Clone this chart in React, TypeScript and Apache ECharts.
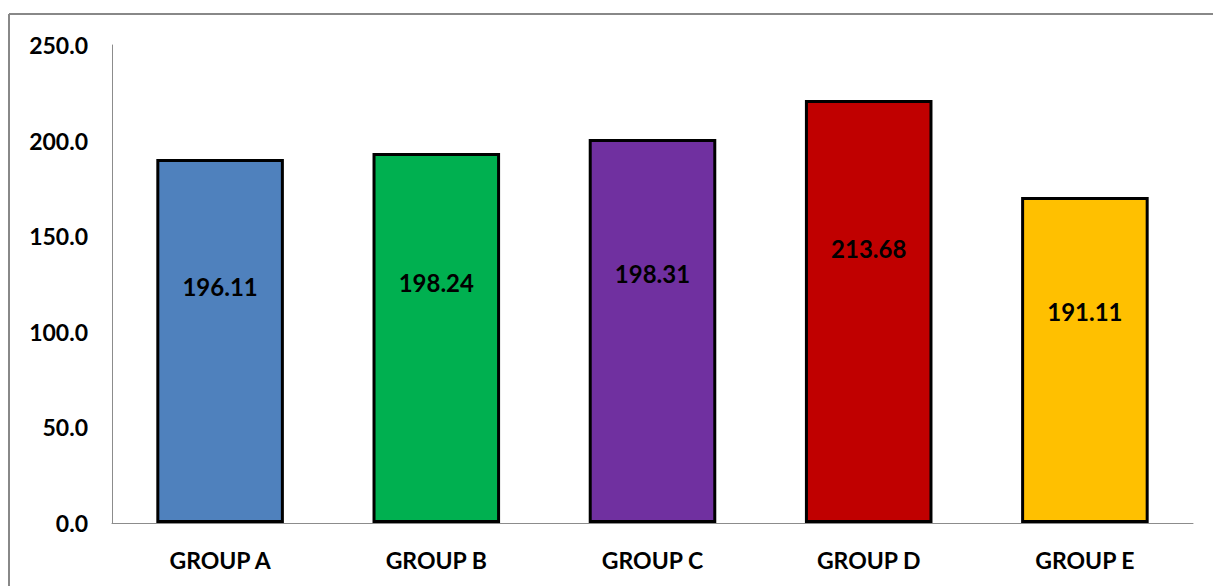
import React, { useEffect, useRef } from "react";
import * as echarts from "echarts";

const categories = ["GROUP A", "GROUP B", "GROUP C", "GROUP D", "GROUP E"];
const barValues = [190.4, 193.5, 200.8, 221.2, 170.5];
const labelTexts = ["196.11", "198.24", "198.31", "213.68", "191.11"];
const barColors = ["#4F81BD", "#00B050", "#7030A0", "#C00000", "#FFC000"];
const yTicks = { min: 0, max: 250, interval: 50 };

export default function App() {
  const ref = useRef<HTMLDivElement>(null);
  useEffect(() => {
    if (!ref.current) return;
    const chart = echarts.init(ref.current, undefined, { renderer: "svg" });
    const font = "Lato, 'Open Sans', sans-serif";
    chart.setOption({
      animation: false,
      backgroundColor: "#fff",
      grid: { left: 112, right: 20, top: 45, bottom: 63, containLabel: false },
      xAxis: {
        type: "category",
        data: categories,
        axisLine: { show: true, lineStyle: { color: "#8c8c8c", width: 1 } },
        axisTick: { show: false },
        axisLabel: {
          color: "#000",
          fontFamily: font,
          fontWeight: "bold",
          fontSize: 23,
          margin: 25,
        },
      },
      yAxis: {
        type: "value",
        min: yTicks.min,
        max: yTicks.max,
        interval: yTicks.interval,
        splitLine: { show: false },
        axisLine: { show: true, lineStyle: { color: "#8c8c8c", width: 1 } },
        axisTick: { show: false },
        axisLabel: {
          color: "#000",
          fontFamily: font,
          fontWeight: "bold",
          fontSize: 23,
          margin: 24,
          formatter: (v: number) => v.toFixed(1),
        },
      },
      series: [
        {
          type: "bar",
          barCategoryGap: "41%",
          data: barValues.map((v, i) => ({
            value: v,
            itemStyle: { color: barColors[i] },
          })),
          itemStyle: { borderColor: "#000", borderWidth: 3 },
          label: {
            show: true,
            position: ["50%", "35%"],
            align: "center",
            verticalAlign: "middle",
            color: "#000",
            fontFamily: font,
            fontWeight: "bold",
            fontSize: 24,
            formatter: (p: any) => labelTexts[p.dataIndex],
          },
        },
      ],
      graphic: [
        {
          type: "line",
          shape: { x1: 9, y1: 14, x2: 1213, y2: 14 },
          style: { stroke: "#888", lineWidth: 2 },
        },
        {
          type: "line",
          shape: { x1: 9, y1: 14, x2: 9, y2: 586 },
          style: { stroke: "#888", lineWidth: 2 },
        },
      ],
    });
    return () => chart.dispose();
  }, []);
  return (
    <div
      ref={ref}
      style={{ position: "fixed", left: 0, top: 0, width: 1213, height: 586 }}
    />
  );
}
